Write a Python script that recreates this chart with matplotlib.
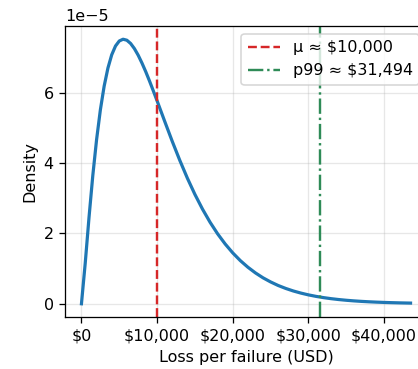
import numpy as np
import matplotlib.pyplot as plt
from matplotlib.ticker import FuncFormatter

# loss grid (USD) and density (units of 1e-5)
loss_usd = [0, 500, 1000, 1500, 2000, 2500, 3000, 3500, 4000, 4500, 5000, 5500,
            6000, 6500, 7000, 7500, 8000, 8500, 9000, 9500, 10000, 11000, 12000,
            13000, 14000, 15000, 16000, 17000, 18000, 19000, 20000, 21000, 22000,
            23000, 24000, 25000, 26000, 27000, 28000, 29000, 30000, 31000, 32000,
            33000, 34000, 35000, 36000, 37000, 38000, 39000, 40000, 41000, 42000,
            43000, 43500]
density_e5 = [0.0, 1.156, 2.457, 3.646, 4.667, 5.513, 6.187, 6.702, 7.078, 7.328,
              7.471, 7.521, 7.493, 7.400, 7.254, 7.066, 6.843, 6.597, 6.331, 6.053,
              5.769, 5.189, 4.619, 4.077, 3.571, 3.108, 2.691, 2.318, 1.988, 1.699,
              1.446, 1.227, 1.039, 0.877, 0.738, 0.621, 0.520, 0.436, 0.364, 0.304,
              0.253, 0.2105, 0.1749, 0.1451, 0.1203, 0.0996, 0.0824, 0.0681, 0.0562,
              0.0464, 0.0382, 0.0315, 0.0259, 0.0213, 0.0193]
y_ticks_e5 = [0, 2, 4, 6]
x_ticks = [0, 10000, 20000, 30000, 40000]

mean_loss = 10000
p99_loss = 31494
title_text = "Simulated loss per failure (Gamma fit), mean ≈ $10,000, p99 ≈ $31,494"

dpi = 115
fig = plt.figure(figsize=(418 / dpi, 369 / dpi), dpi=dpi)
ax = fig.add_axes([65 / 418, 1 - 317 / 369, (427 - 65) / 418, (317 - 26) / 369])

x = np.array(loss_usd)
y = np.array(density_e5) * 1e-5
ax.plot(x, y, color='#1f77b4', lw=2)
ax.axvline(mean_loss, color='#d62728', ls='--', lw=1.5, label=f"μ ≈ ${mean_loss:,.0f}")
ax.axvline(p99_loss, color='#2e8b57', ls='-.', lw=1.5, label=f"p99 ≈ ${p99_loss:,.0f}")

ax.set_xticks(x_ticks)
ax.set_yticks(np.array(y_ticks_e5) * 1e-5)
ax.xaxis.set_major_formatter(FuncFormatter(lambda v, _: f"${v:,.0f}"))
ax.set_xlabel("Loss per failure (USD)")
ax.set_ylabel("Density")
ax.grid(True, alpha=0.3)
ax.legend(loc='upper right')

# title sits mostly above the visible area, as in the cropped source
fig.text(0.47, 1 + 6 / 369, title_text, ha='center', va='baseline', fontsize=12)

fig.savefig("out.png", dpi=dpi)
